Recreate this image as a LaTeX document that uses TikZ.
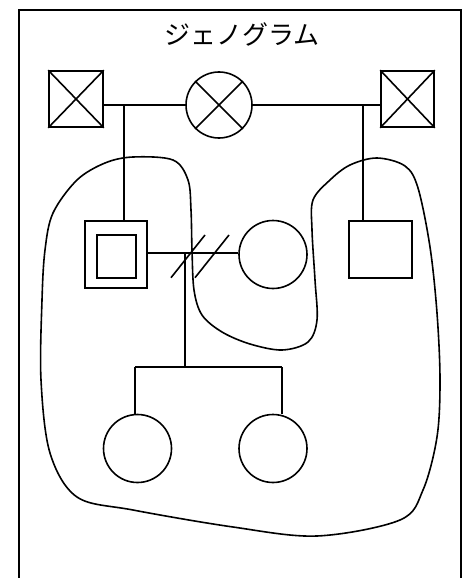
\documentclass[tikz,border=0pt]{standalone}
\usepackage{fontspec}
\newfontfamily\jpfont{Noto Sans CJK JP}
\begin{document}
\begin{tikzpicture}[x=1pt,y=-1pt,line width=1.6pt,
  male/.style={draw,rectangle,inner sep=0pt,line width=1.6pt},
  female/.style={draw,circle,inner sep=0pt,line width=1.6pt},
  conn/.style={line width=1.6pt}]
\useasboundingbox (0,0) rectangle (470,578);
\begin{scope}
\clip (0,0) rectangle (470,578);
\draw (19,10) rectangle (461,600);
\end{scope}
\node[font=\jpfont\fontsize{26}{30}\selectfont] (title) at (242,34) {ジェノグラム};
% grandparents
\node[male,minimum width=54pt,minimum height=56pt] (gfL) at (76,99) {};
\draw (gfL.north west) -- (gfL.south east) (gfL.north east) -- (gfL.south west);
\node[female,minimum size=66pt] (gm) at (219,105) {};
\draw (gm.45) -- (gm.225) (gm.135) -- (gm.-45);
\node[male,minimum width=53pt,minimum height=56pt] (gfR) at (407.5,99) {};
\draw (gfR.north west) -- (gfR.south east) (gfR.north east) -- (gfR.south west);
% second generation
\node[male,minimum width=62pt,minimum height=67pt] (ego) at (116,254.5) {};
\node[male,minimum width=39pt,minimum height=43pt] (egoin) at (116.5,256.5) {};
\node[female,minimum size=68pt] (wife) at (273,254.5) {};
\node[male,minimum width=63pt,minimum height=57pt] (bro) at (380.5,249.5) {};
% third generation
\node[female,minimum size=68pt] (d1) at (137.5,448.5) {};
\node[female,minimum size=68pt] (d2) at (273,448.5) {};
% connectors
\coordinate (j1) at (124,105);
\coordinate (j2) at (363,105);
\coordinate (m) at (185,253);
\draw[conn] (gfL.east |- gm.west) -- (gm.west);
\draw[conn] (gm.east) -- (gfR.west |- gm.east);
\draw[conn] (j1) -- (j1 |- ego.north);
\draw[conn] (j2) -- (j2 |- bro.north);
\draw[conn] (ego.east |- m) -- (wife.west |- m);
\coordinate (sa1) at (171,277.7); \coordinate (sa2) at (205,235);
\coordinate (sb1) at (195,277.7); \coordinate (sb2) at (229,235);
\draw[conn] (sa1) -- (sa2);
\draw[conn] (sb1) -- (sb2);
\coordinate (c2) at (185,367);
\coordinate (s1) at (135,367);
\coordinate (s2) at (282,367);
\draw[conn] (m) -- (c2);
\draw[conn] (s1) -- (s2);
\draw[conn] (s1) -- (s1 |- d1.north);
\draw[conn] (s2) -- (s2 |- d2.north);
% household boundary
\draw plot[smooth cycle,tension=0.55] coordinates {
 (42,300) (45,250) (53,213) (77,180) (105,163) (133,157) (173,160) (188,180)
 (191,210) (192,250) (194,290) (202,315) (222,332) (250,344) (282,350)
 (308,342) (317,320) (315,280) (312,230) (313,200) (330,180) (350,165)
 (377,158) (405,166) (418,188) (430,247) (437,313) (440,380) (437,437)
 (423,490) (400,520) (317,536) (233,527) (133,510) (77,497) (50,453) (41,380)};
\end{tikzpicture}
\end{document}
